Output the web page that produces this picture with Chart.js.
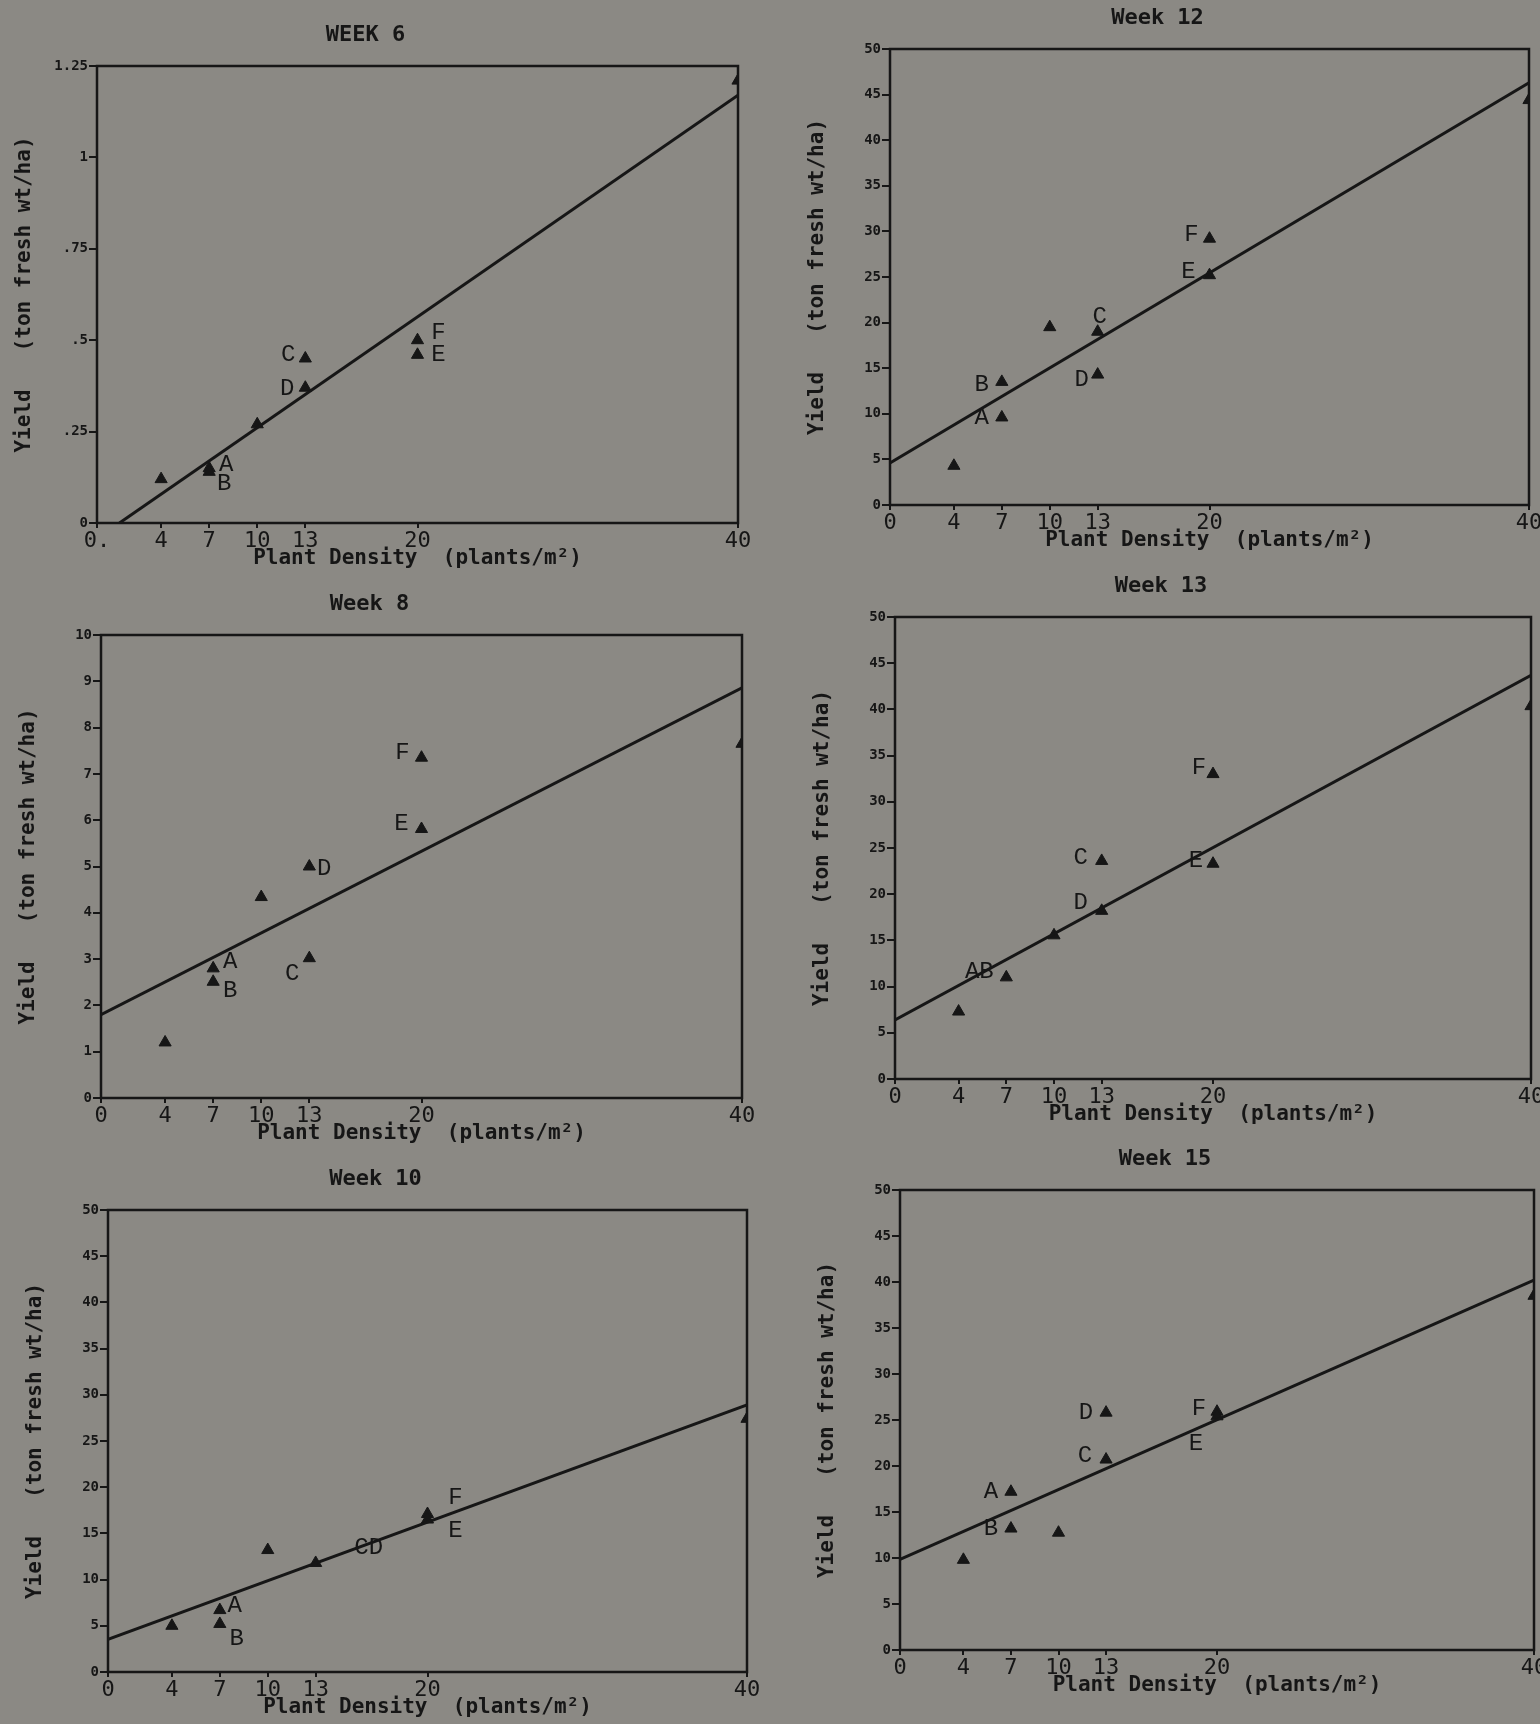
<!DOCTYPE html>
<html>
<head>
<meta charset="utf-8">
<script src="https://cdn.jsdelivr.net/npm/chart.js@4.4.0/dist/chart.umd.min.js"></script>
<style>
  html, body { margin: 0; padding: 0; width: 1540px; height: 1724px; overflow: hidden; background: #8b8984; }
  .panel { position: absolute; }
</style>
</head>
<body>
<div class="panel" id="p6"><canvas id="c6"></canvas></div>
<div class="panel" id="p12"><canvas id="c12"></canvas></div>
<div class="panel" id="p8"><canvas id="c8"></canvas></div>
<div class="panel" id="p13"><canvas id="c13"></canvas></div>
<div class="panel" id="p10"><canvas id="c10"></canvas></div>
<div class="panel" id="p15"><canvas id="c15"></canvas></div>
<script>
// x axis, shared
const xTicks = [0, 4, 7, 10, 13, 20, 40];
const xTickLabels = ['0', '4', '7', '10', '13', '20', '40'];
const xTickLabels6 = ['0.', '4', '7', '10', '13', '20', '40'];
const yTicks50 = [0, 5, 10, 15, 20, 25, 30, 35, 40, 45, 50];
const yTickLabels50 = ['0', '5', '10', '15', '20', '25', '30', '35', '40', '45', '50'];

// week 6
const week6Density = [4, 7, 7, 10, 13, 13, 20, 20, 40];
const week6Letters = ['', 'A', 'B', '', 'C', 'D', 'F', 'E', ''];
const week6Yield = [0.12, 0.15, 0.14, 0.27, 0.45, 0.37, 0.50, 0.46, 1.21];
const week6FitX = [1.4, 40];
const week6FitY = [0, 1.17];
const week6YTicks = [0, 0.25, 0.5, 0.75, 1, 1.25];
const week6YTickLabels = ['0', '.25', '.5', '.75', '1', '1.25'];

// week 12
const week12Density = [4, 7, 7, 10, 13, 13, 20, 20, 40];
const week12Letters = ['', 'A', 'B', '', 'C', 'D', 'F', 'E', ''];
const week12Yield = [4.3, 9.6, 13.5, 19.5, 19.0, 14.3, 29.2, 25.2, 44.4];
const week12FitX = [0, 40];
const week12FitY = [4.6, 46.3];

// week 8
const week8Density = [4, 7, 7, 10, 13, 13, 20, 20, 40];
const week8Letters = ['', 'A', 'B', '', 'D', 'C', 'F', 'E', ''];
const week8Yield = [1.2, 2.8, 2.51, 4.34, 5.0, 3.02, 7.35, 5.81, 7.65];
const week8FitX = [0, 40];
const week8FitY = [1.8, 8.86];
const week8YTicks = [0, 1, 2, 3, 4, 5, 6, 7, 8, 9, 10];
const week8YTickLabels = ['0', '1', '2', '3', '4', '5', '6', '7', '8', '9', '10'];

// week 13
const week13Density = [4, 7, 10, 13, 13, 20, 20, 40];
const week13Letters = ['', 'AB', '', 'C', 'D', 'F', 'E', ''];
const week13Yield = [7.3, 11.0, 15.55, 23.6, 18.2, 33.0, 23.3, 40.35];
const week13FitX = [0, 40];
const week13FitY = [6.4, 43.7];

// week 10
const week10Density = [4, 7, 7, 10, 13, 20, 20, 40];
const week10Letters = ['', 'A', 'B', '', 'CD', 'F', 'E', ''];
const week10Yield = [5.0, 6.7, 5.2, 13.2, 11.8, 17.1, 16.5, 27.4];
const week10FitX = [0, 40];
const week10FitY = [3.54, 28.9];

// week 15
const week15Density = [4, 7, 7, 10, 13, 13, 20, 20, 40];
const week15Letters = ['', 'A', 'B', '', 'D', 'C', 'F', 'E', ''];
const week15Yield = [9.8, 17.2, 13.2, 12.75, 25.8, 20.7, 25.9, 25.4, 38.5];
const week15FitX = [0, 40];
const week15FitY = [9.84, 40.2];

const ink = '#161616';
const mono = '"DejaVu Sans Mono", monospace';

// box around the plot area
const framePlugin = {
  id: 'frame',
  beforeDatasetsDraw(chart) {
    const a = chart.chartArea;
    const ctx = chart.ctx;
    ctx.save();
    ctx.strokeStyle = ink;
    ctx.lineWidth = 2.5;
    ctx.strokeRect(a.left, a.top, a.right - a.left, a.bottom - a.top);
    ctx.restore();
  }
};

function lettersPlugin(letters, offsets) {
  return {
    id: 'letters',
    afterDatasetsDraw(chart) {
      const meta = chart.getDatasetMeta(1);
      const ctx = chart.ctx;
      ctx.save();
      ctx.font = '24px "Liberation Mono", monospace';
      ctx.fillStyle = ink;
      ctx.textAlign = 'center';
      ctx.textBaseline = 'middle';
      meta.data.forEach((pt, i) => {
        if (!letters[i]) return;
        const o = offsets[i] || [0, 0];
        ctx.fillText(letters[i], pt.x + o[0], pt.y + o[1]);
      });
      ctx.restore();
    }
  };
}

function makePanel(p) {
  const L = 104, T = 64, R = 28, B = 53;
  const wrap = document.getElementById(p.wrap);
  const canvas = document.getElementById(p.canvas);
  const w = p.area[2] - p.area[0] + L + R;
  const h = p.area[3] - p.area[1] + T + B;
  wrap.style.left = (p.area[0] - L) + 'px';
  wrap.style.top = (p.area[1] - T) + 'px';
  canvas.width = w;
  canvas.height = h;

  return new Chart(canvas, {
    type: 'scatter',
    data: {
      datasets: [{
          data: p.fitX.map((x, i) => ({ x: x, y: p.fitY[i] })),
          showLine: true,
          borderColor: ink,
          borderWidth: 3,
          pointRadius: 0
        },
        {
          data: p.density.map((x, i) => ({ x: x, y: p.yields[i] })),
          pointStyle: 'triangle',
          pointRadius: 7,
          backgroundColor: ink,
          borderColor: ink,
          borderWidth: 1
        }
      ]
    },
    options: {
      responsive: false,
      animation: false,
      layout: { padding: { left: 0, right: R, top: 0, bottom: 0 } },
      scales: {
        x: {
          type: 'linear',
          min: 0,
          max: 40,
          afterBuildTicks: s => { s.ticks = xTicks.map(v => ({ value: v })); },
          afterFit: s => { s.height = B; },
          ticks: {
            callback: v => p.xLabels[xTicks.indexOf(v)],
            font: { family: mono, size: 22 },
            color: ink,
            padding: 0,
            maxRotation: 0,
            autoSkip: false
          },
          grid: { drawOnChartArea: false, color: ink, lineWidth: 2, tickLength: 5 },
          border: { display: false },
          title: {
            display: true,
            text: 'Plant Density  (plants/m²)',
            font: { family: mono, size: 21, weight: 'bold' },
            color: ink,
            padding: { top: 0, bottom: 4.4 }
          }
        },
        y: {
          type: 'linear',
          min: 0,
          max: p.yTicks[p.yTicks.length - 1],
          afterBuildTicks: s => { s.ticks = p.yTicks.map(v => ({ value: v })); },
          afterFit: s => { s.width = L; },
          ticks: {
            callback: v => p.yLabels[p.yTicks.indexOf(v)],
            font: { family: mono, size: 14, weight: 'bold' },
            color: ink,
            padding: 1
          },
          grid: { drawOnChartArea: false, color: ink, lineWidth: 2, tickLength: 8 },
          border: { display: false },
          title: {
            display: true,
            text: 'Yield   (ton fresh wt/ha)',
            font: { family: mono, size: 21, weight: 'bold' },
            color: ink,
            padding: { top: 19.4, bottom: 0 }
          }
        }
      },
      plugins: {
        legend: { display: false },
        tooltip: { enabled: false },
        title: {
          display: true,
          text: p.title,
          font: { family: mono, size: 22, weight: 'bold' },
          color: ink,
          padding: { top: 20, bottom: 17.6 }
        }
      }
    },
    plugins: [framePlugin, lettersPlugin(p.letters, p.offsets)]
  });
}

makePanel({
  wrap: 'p6', canvas: 'c6', title: 'WEEK 6', area: [97, 66, 738, 523],
  density: week6Density, yields: week6Yield, letters: week6Letters,
  fitX: week6FitX, fitY: week6FitY, yTicks: week6YTicks, yLabels: week6YTickLabels, xLabels: xTickLabels6,
  offsets: [null, [17, -4], [15, 12], null, [-17, -4], [-18, 1], [21, -8], [21, 0], null]
});

makePanel({
  wrap: 'p12', canvas: 'c12', title: 'Week 12', area: [890, 49, 1529, 505],
  density: week12Density, yields: week12Yield, letters: week12Letters,
  fitX: week12FitX, fitY: week12FitY, yTicks: yTicks50, yLabels: yTickLabels50, xLabels: xTickLabels,
  offsets: [null, [-20, 0], [-20, 3], null, [2, -15], [-16, 5], [-18, -4], [-21, -4], null]
});

makePanel({
  wrap: 'p8', canvas: 'c8', title: 'Week 8', area: [101, 635, 742, 1098],
  density: week8Density, yields: week8Yield, letters: week8Letters,
  fitX: week8FitX, fitY: week8FitY, yTicks: week8YTicks, yLabels: week8YTickLabels, xLabels: xTickLabels,
  offsets: [null, [17, -7], [17, 9], null, [15, 2], [-17, 15], [-19, -5], [-20, -5], null]
});

makePanel({
  wrap: 'p13', canvas: 'c13', title: 'Week 13', area: [895, 617, 1531, 1079],
  density: week13Density, yields: week13Yield, letters: week13Letters,
  fitX: week13FitX, fitY: week13FitY, yTicks: yTicks50, yLabels: yTickLabels50, xLabels: xTickLabels,
  offsets: [null, [-27, -6], null, [-21, -3], [-21, -8], [-14, -6], [-17, -3], null]
});

makePanel({
  wrap: 'p10', canvas: 'c10', title: 'Week 10', area: [108, 1210, 747, 1672],
  density: week10Density, yields: week10Yield, letters: week10Letters,
  fitX: week10FitX, fitY: week10FitY, yTicks: yTicks50, yLabels: yTickLabels50, xLabels: xTickLabels,
  offsets: [null, [15, -4], [17, 15], null, [53, -15], [28, -16], [28, 11], null]
});

makePanel({
  wrap: 'p15', canvas: 'c15', title: 'Week 15', area: [900, 1190, 1534, 1650],
  density: week15Density, yields: week15Yield, letters: week15Letters,
  fitX: week15FitX, fitY: week15FitY, yTicks: yTicks50, yLabels: yTickLabels50, xLabels: xTickLabels,
  offsets: [null, [-20, 0], [-20, 0], null, [-20, 0], [-21, -4], [-18, -3], [-21, 27], null]
});
</script>
</body>
</html>
